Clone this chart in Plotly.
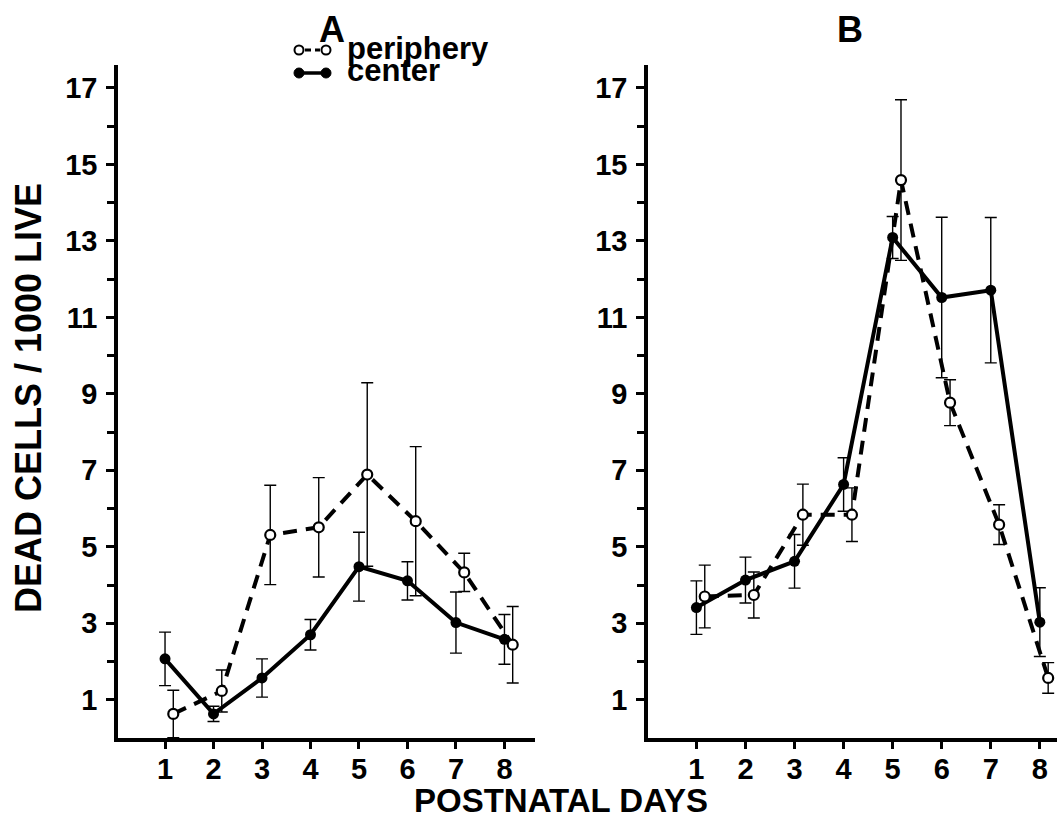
import plotly.graph_objects as go

# ---------------- data ----------------
days = [1, 2, 3, 4, 5, 6, 7, 8]

a_center = [2.07, 0.63, 1.57, 2.70, 4.48, 4.11, 3.02, 2.58]
a_center_err = [0.70, 0.20, 0.50, 0.40, 0.90, 0.50, 0.80, 0.65]
a_periph = [0.63, 1.23, 5.31, 5.51, 6.89, 5.67, 4.33, 2.44]
a_periph_err = [0.62, 0.55, 1.30, 1.30, 2.40, 1.95, 0.50, 1.00]

b_center = [3.41, 4.13, 4.62, 6.63, 13.09, 11.52, 11.71, 3.03]
b_center_err = [0.70, 0.60, 0.70, 0.70, 0.55, 2.10, 1.90, 0.90]
b_periph = [3.70, 3.74, 5.84, 5.84, 14.59, 8.77, 5.58, 1.57]
b_periph_err = [0.82, 0.60, 0.80, 0.70, 2.10, 0.60, 0.52, 0.40]

y_tickvals = [1, 3, 5, 7, 9, 11, 13, 15, 17]
y_minor = [2, 4, 6, 8, 10, 12, 14, 16]
x_ticklabels = ["1", "2", "3", "4", "5", "6", "7", "8"]

panel_titles = ["A", "B"]
series_names = ["periphery", "center"]
x_title = "POSTNATAL DAYS"
y_title = "DEAD CELLS / 1000 LIVE"

# ---------------- layout helpers ----------------
W, H = 1057, 835
M_T, M_B = 65, 97
PH = H - M_T - M_B
OFFSET = 0.17  # horizontal offset of periphery points (style)


def px(x):
    return x / W


def py(y):
    return (H - M_B - y) / PH


BOLD = "Liberation Sans, Arial, Helvetica, sans-serif"

fig = go.Figure()


def add_panel(xa, ya, center, center_err, periph, periph_err):
    fig.add_trace(go.Scatter(
        x=days, y=center, xaxis=xa, yaxis=ya, mode="lines+markers",
        name=series_names[1], showlegend=False,
        line=dict(color="black", width=4),
        marker=dict(color="black", size=11, symbol="circle"),
        error_y=dict(type="data", array=center_err, visible=True,
                     color="black", thickness=1.4, width=6),
    ))
    fig.add_trace(go.Scatter(
        x=[d + OFFSET for d in days], y=periph, xaxis=xa, yaxis=ya,
        mode="lines+markers", name=series_names[0], showlegend=False,
        line=dict(color="black", width=4, dash="14px,9px"),
        marker=dict(color="white", size=10, symbol="circle",
                    line=dict(color="black", width=2.2)),
        error_y=dict(type="data", array=periph_err, visible=True,
                     color="black", thickness=1.4, width=6),
    ))


add_panel("x", "y", a_center, a_center_err, a_periph, a_periph_err)
add_panel("x2", "y2", b_center, b_center_err, b_periph, b_periph_err)

yaxis_common = dict(
    range=[0, 17.6], tickvals=y_tickvals, ticktext=[str(v) for v in y_tickvals],
    ticks="outside", ticklen=8, tickwidth=3, tickcolor="black",
    showline=True, linewidth=3.5, linecolor="black", showgrid=False,
    zeroline=False, tickfont=dict(family=BOLD, size=29, color="black", weight="bold"),
    minor=dict(tickvals=y_minor, ticks="outside", ticklen=7, tickwidth=3,
               tickcolor="black", showgrid=False),
    ticklabelstandoff=3,
)
xaxis_common = dict(
    tickvals=days, ticktext=x_ticklabels, ticks="outside", ticklen=7,
    tickwidth=3, tickcolor="black", showline=True, linewidth=3.5,
    linecolor="black", showgrid=False, zeroline=False,
    tickfont=dict(family=BOLD, size=29, color="black", weight="bold"),
    ticklabelstandoff=-5,
)

fig.update_layout(
    width=W, height=H,
    margin=dict(l=0, r=0, t=M_T, b=M_B, pad=0),
    paper_bgcolor="white", plot_bgcolor="white",
    showlegend=False,
    xaxis=dict(domain=[px(118), px(535)], range=[0.03, 8.63], anchor="y", **xaxis_common),
    yaxis=dict(domain=[0, 1], anchor="x", **yaxis_common),
    xaxis2=dict(domain=[px(648), 1.0], range=[0.013, 8.35], anchor="y2", **xaxis_common),
    yaxis2=dict(domain=[0, 1], anchor="x2", **yaxis_common),
)


def ann(text, x, y, size, xanchor="center", angle=0):
    return dict(text=text, x=px(x), y=py(y), xref="paper", yref="paper",
                xanchor=xanchor, yanchor="middle", textangle=angle, showarrow=False,
                font=dict(family=BOLD, size=size, color="black", weight="bold"))


annotations = [
    ann(panel_titles[0], 332, 30, 36),
    ann(panel_titles[1], 850, 30, 36),
    ann(x_title, 561, 800, 33),
    ann(y_title, 28, 398, 36, angle=-90),
    ann(series_names[0], 345, 48, 31, xanchor="left"),
    ann(series_names[1], 345, 71, 31, xanchor="left"),
]
fig.update_layout(annotations=annotations)

# legend key drawings (decoration in paper coordinates)
shapes = []
ly1, ly2 = 50, 73
lx1, lx2 = 299, 326
shapes.append(dict(type="line", xref="paper", yref="paper", x0=px(lx1 + 6), x1=px(lx2 - 6),
                   y0=py(ly1), y1=py(ly1), line=dict(color="black", width=3, dash="6px,4px")))
shapes.append(dict(type="line", xref="paper", yref="paper", x0=px(lx1), x1=px(lx2),
                   y0=py(ly2), y1=py(ly2), line=dict(color="black", width=3.5)))
for cx in (lx1, lx2):
    shapes.append(dict(type="circle", xref="paper", yref="paper", xsizemode="pixel",
                       ysizemode="pixel", xanchor=px(cx), yanchor=py(ly1),
                       x0=-4.5, x1=4.5, y0=-4.5, y1=4.5,
                       fillcolor="white", line=dict(color="black", width=2)))
    shapes.append(dict(type="circle", xref="paper", yref="paper", xsizemode="pixel",
                       ysizemode="pixel", xanchor=px(cx), yanchor=py(ly2),
                       x0=-5, x1=5, y0=-5, y1=5,
                       fillcolor="black", line=dict(color="black", width=1)))
fig.update_layout(shapes=shapes)

fig.write_html("out.html")
